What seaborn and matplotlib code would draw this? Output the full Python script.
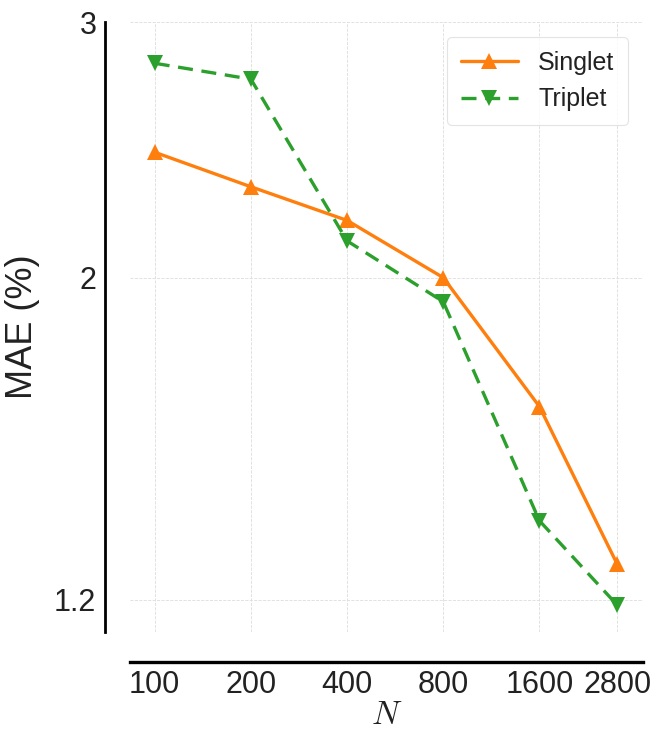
import matplotlib
matplotlib.use("Agg")
import matplotlib.pyplot as plt
from matplotlib.ticker import FixedLocator, NullLocator
import seaborn as sns
import pandas as pd

# data
n_values = [100, 200, 400, 800, 1600, 2800]
singlet_mae = [2.44, 2.31, 2.19, 2.00, 1.63, 1.27]
triplet_mae = [2.81, 2.74, 2.12, 1.925, 1.36, 1.19]
y_ticks = [1.2, 2, 3]
y_tick_labels = ["1.2", "2", "3"]

df = pd.DataFrame({"N": n_values, "Singlet": singlet_mae, "Triplet": triplet_mae})

sns.set_theme(style="whitegrid")
plt.rcParams["font.family"] = ["Liberation Sans", "DejaVu Sans"]
plt.rcParams["mathtext.fontset"] = "cm"

fig = plt.figure(figsize=(6.55, 7.34), dpi=100)
ax = fig.add_axes([0.198, 0.139, 0.784, 0.831])

sns.lineplot(data=df, x="N", y="Singlet", ax=ax, color="#ff7f0e", marker="^",
             markersize=11, markeredgewidth=0, linewidth=2.4, label="Singlet")
sns.lineplot(data=df, x="N", y="Triplet", ax=ax, color="#2ca02c", marker="v",
             markersize=11, markeredgewidth=0, linewidth=2.4, linestyle=(0, (4.5, 2.6)),
             label="Triplet")

ax.set_xscale("log")
ax.set_yscale("log")
ax.set_xlim(83.5, 3380)
ax.set_ylim(1.14, 3.0)

ax.xaxis.set_major_locator(FixedLocator(n_values))
ax.set_xticklabels([str(v) for v in n_values])
ax.xaxis.set_minor_locator(NullLocator())
ax.yaxis.set_major_locator(FixedLocator(y_ticks))
ax.set_yticklabels(y_tick_labels)
ax.yaxis.set_minor_locator(NullLocator())

ax.tick_params(axis="both", length=0, labelsize=22, pad=6, colors="#222222")
ax.grid(True, linestyle="--", linewidth=0.6, color="#dddddd")

ax.set_xlabel("$N$", fontsize=24, labelpad=0, color="#222222")
ax.set_ylabel("MAE (%)", fontsize=26, labelpad=10, color="#222222")

sns.despine(ax=ax, offset={"left": 18, "bottom": 21.6})
for side in ["left", "bottom"]:
    ax.spines[side].set_color("black")
ax.spines["left"].set_linewidth(2.0)
ax.spines["bottom"].set_linewidth(2.4)

leg = ax.legend(loc="upper right", fontsize=18, frameon=True, fancybox=True,
                borderpad=0.55, handlelength=2.3, borderaxespad=0.6)
leg.get_frame().set_edgecolor("#dddddd")
leg.get_frame().set_linewidth(0.8)
for t in leg.get_texts():
    t.set_color("#222222")

fig.savefig("out.png", dpi=100)
